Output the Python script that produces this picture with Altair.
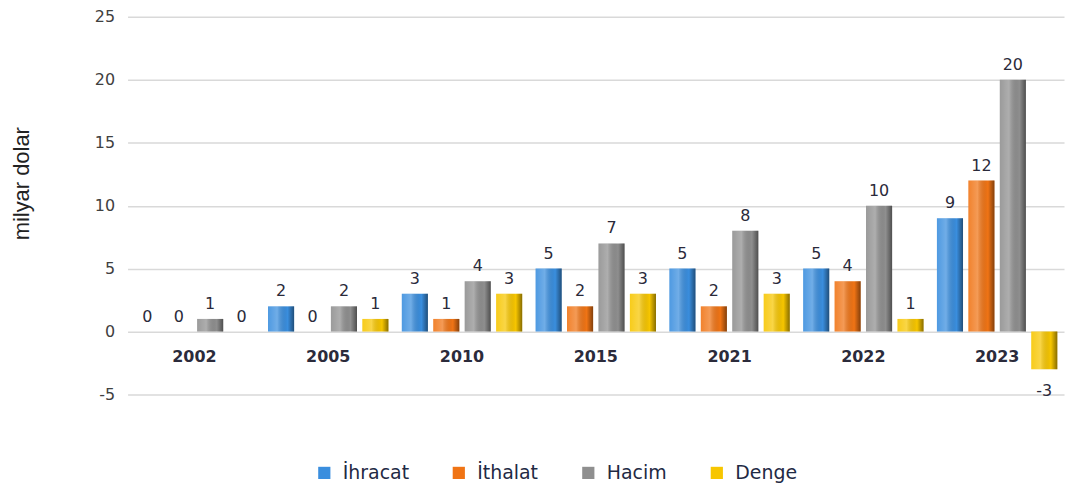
import altair as alt
import pandas as pd

years = ["2002", "2005", "2010", "2015", "2021", "2022", "2023"]
series = ["İhracat", "İthalat", "Hacim", "Denge"]
ihracat = [0, 2, 3, 5, 5, 5, 9]
ithalat = [0, 0, 1, 2, 2, 4, 12]
hacim = [1, 2, 4, 7, 8, 10, 20]
denge = [0, 1, 3, 3, 3, 1, -3]
colors = ["#3a8ede", "#f07415", "#8f8f8f", "#f7c600"]
y_ticks = [-5, 0, 5, 10, 15, 20, 25]

rows = []
for name, vals in zip(series, [ihracat, ithalat, hacim, denge]):
    for yv, v in zip(years, vals):
        rows.append({"year": yv, "series": name, "value": v, "label": str(v)})
df = pd.DataFrame(rows)
yr = pd.DataFrame({"year": years, "zero": [0] * len(years)})

x_enc = alt.X("year:N", sort=years, axis=None,
              scale=alt.Scale(paddingInner=0.1, paddingOuter=0.05))
xo_enc = alt.XOffset("series:N", sort=series,
                     scale=alt.Scale(domain=series, paddingInner=0.17))
y_enc = alt.Y("value:Q", title="milyar dolar",
              scale=alt.Scale(domain=[-5, 25], nice=False),
              axis=alt.Axis(values=y_ticks, grid=True, gridColor="#d9d9d9", gridWidth=1.5,
                            domain=False, ticks=False, labelPadding=13,
                            labelExpr="'' + datum.value",
                            labelFont="DejaVu Sans", labelFontSize=16, labelColor="#404040",
                            titleFont="Liberation Sans", titleFontSize=22, titleColor="#222222",
                            titleFontWeight="normal", titleAngle=-90, titleAlign="center",
                            titleBaseline="middle", titleX=-106, titleY=167))

base = alt.Chart(df)

bars = base.mark_bar().encode(
    x=x_enc, xOffset=xo_enc, y=y_enc,
    color=alt.Color("series:N", sort=series,
                    scale=alt.Scale(domain=series, range=colors),
                    legend=alt.Legend(title=None, orient="none", direction="horizontal",
                                      legendX=188, legendY=448, symbolType="square",
                                      symbolSize=150, symbolStrokeWidth=0,
                                      labelFont="DejaVu Sans", labelFontSize=19,
                                      labelColor="#1f2a44", labelOffset=9,
                                      columnPadding=40)),
)

shade = alt.Gradient(
    gradient="linear", x1=0, x2=1, y1=0, y2=0,
    stops=[
        alt.GradientStop(color="rgba(255,255,255,0.10)", offset=0),
        alt.GradientStop(color="rgba(255,255,255,0.28)", offset=0.35),
        alt.GradientStop(color="rgba(0,0,0,0.0)", offset=0.75),
        alt.GradientStop(color="rgba(0,0,0,0.45)", offset=1),
    ],
)
overlay = base.mark_bar(color=shade).encode(x=x_enc, xOffset=xo_enc, y="value:Q")

pos_labels = base.transform_filter(alt.datum.value >= 0).mark_text(
    baseline="bottom", dy=-7, font="DejaVu Sans", fontSize=16, color="#2a2a3a"
).encode(x=x_enc, xOffset=xo_enc, y="value:Q", text="label:N")

neg_labels = base.transform_filter(alt.datum.value < 0).mark_text(
    baseline="top", dy=14, font="DejaVu Sans", fontSize=16, color="#2a2a3a"
).encode(x=x_enc, xOffset=xo_enc, y="value:Q", text="label:N")

year_labels = alt.Chart(yr).mark_text(
    dy=26, font="DejaVu Sans", fontWeight="bold", fontSize=16, color="#2b2b3b"
).encode(x=alt.X("year:N", sort=years), y="zero:Q", text="year:N")

chart = alt.layer(bars, overlay, pos_labels, neg_labels, year_labels).properties(
    width=940, height=379,
    autosize=alt.AutoSizeParams(type="none"),
    padding={"left": 120, "top": 8, "right": 4, "bottom": 92},
).configure_view(stroke=None)

chart.save("out.html", embed_options={"renderer": "svg", "actions": False})
